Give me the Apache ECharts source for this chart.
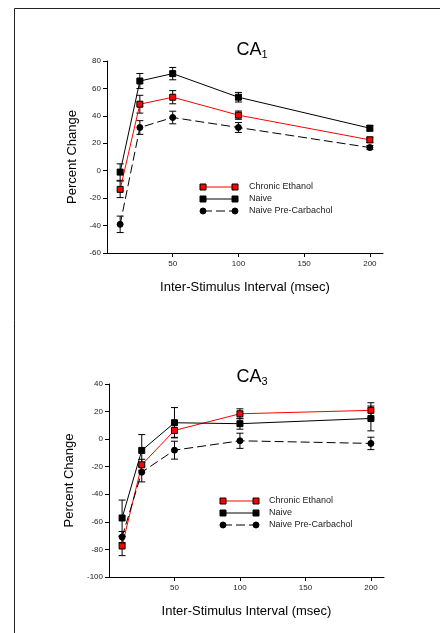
<!DOCTYPE html>
<html>
<head>
<meta charset="utf-8">
<script src="https://cdn.jsdelivr.net/npm/echarts@6/dist/echarts.min.js"></script>
<style>
html, body { margin: 0; padding: 0; background: #fff; }
#chart { width: 440px; height: 633px; }
</style>
</head>
<body>
<div id="chart"></div>
<script>
// inter-stimulus intervals (msec)
const isiMsec = [10, 25, 50, 100, 200]
const xTicks = [50, 100, 150, 200]
const seriesNames = ['Chronic Ethanol', 'Naive', 'Naive Pre-Carbachol']

// CA1 percent change (mean / sem)
const ca1Ethanol = [-13.6, 48.5, 53.6, 40.5, 22.5]
const ca1EthanolErr = [6, 6.5, 4.8, 3, 2]
const ca1Naive = [-1, 65.4, 70.8, 53.6, 31]
const ca1NaiveErr = [6, 5.5, 4.5, 3.5, 2]
const ca1PreCarb = [-39.1, 31.5, 38.8, 31.5, 16.9]
const ca1PreCarbErr = [6, 5, 4.6, 3.6, 1.5]

// CA3 percent change (mean / sem)
const ca3Ethanol = [-77.5, -18.6, 6.3, 18.4, 20.9]
const ca3EthanolErr = [7, 4, 5, 3.6, 5.5]
const ca3Naive = [-57.2, -8.2, 11.9, 11.2, 15]
const ca3NaiveErr = [13, 11.5, 11, 4, 9]
const ca3PreCarb = [-71, -24, -8, -1.2, -3.1]
const ca3PreCarbErr = [4, 7, 6.5, 5.5, 4.5]

const font = 'Liberation Sans, Arial, sans-serif'

const styles = [
  { symbol: 'rect', fill: '#ff0000', line: '#ff0000', dash: 'solid' },
  { symbol: 'rect', fill: '#000', line: '#000', dash: 'solid' },
  { symbol: 'circle', fill: '#000', line: '#000', dash: [9, 4] }
]

function makeLine(idx, values, grid) {
  const st = styles[idx]
  return {
    name: seriesNames[idx],
    type: 'line',
    xAxisIndex: grid,
    yAxisIndex: grid,
    data: isiMsec.map((x, i) => [x, values[i]]),
    symbol: st.symbol,
    symbolSize: 6,
    showAllSymbol: true,
    itemStyle: { color: st.fill, borderColor: '#000', borderWidth: 1 },
    lineStyle: { color: st.line, width: 1, type: st.dash },
    emphasis: { disabled: true },
    z: 3
  }
}

function makeErr(values, errs, grid) {
  return {
    type: 'custom',
    xAxisIndex: grid,
    yAxisIndex: grid,
    data: isiMsec.map((x, i) => [x, values[i] - errs[i], values[i] + errs[i]]),
    encode: { x: 0, y: [1, 2] },
    renderItem: (params, api) => {
      const x = api.value(0)
      const lo = api.coord([x, api.value(1)])
      const hi = api.coord([x, api.value(2)])
      const half = 3.5
      const style = { stroke: '#000', lineWidth: 1 }
      return {
        type: 'group',
        children: [
          { type: 'line', shape: { x1: lo[0], y1: lo[1], x2: hi[0], y2: hi[1] }, style },
          { type: 'line', shape: { x1: lo[0] - half, y1: lo[1], x2: lo[0] + half, y2: lo[1] }, style },
          { type: 'line', shape: { x1: hi[0] - half, y1: hi[1], x2: hi[0] + half, y2: hi[1] }, style }
        ]
      }
    },
    z: 2
  }
}

function makeXAxis(grid) {
  return {
    gridIndex: grid,
    type: 'value',
    min: 0,
    max: 210,
    interval: 50,
    axisLine: { show: true, onZero: false, lineStyle: { color: '#000', width: 1 } },
    axisTick: { show: true, length: 4, customValues: xTicks, lineStyle: { color: '#000' } },
    axisLabel: { customValues: xTicks, fontSize: 8, color: '#222', margin: 7, fontFamily: font },
    splitLine: { show: false },
    name: 'Inter-Stimulus Interval (msec)',
    nameLocation: 'middle',
    nameGap: 28,
    nameTextStyle: { fontSize: 13, color: '#000', fontFamily: font }
  }
}

function makeYAxis(grid, min, max) {
  return {
    gridIndex: grid,
    type: 'value',
    min: min,
    max: max,
    interval: 20,
    axisLine: { show: true, onZero: false, lineStyle: { color: '#000', width: 1 } },
    axisTick: { show: true, length: 4, lineStyle: { color: '#000' } },
    axisLabel: { fontSize: 8, color: '#222', margin: 6, fontFamily: font },
    splitLine: { show: false },
    name: 'Percent Change',
    nameLocation: 'middle',
    nameRotate: 90,
    nameGap: 28,
    nameTextStyle: { fontSize: 13, color: '#000', fontFamily: font }
  }
}

// hand-drawn legend: marker - line - marker, then label
function legendBlock(x1, x2, tx, y0, gap) {
  const items = []
  styles.forEach((st, i) => {
    const y = y0 + i * gap
    items.push({
      type: 'line',
      shape: { x1: x1, y1: y, x2: x2, y2: y },
      style: { stroke: st.line, lineWidth: 1, lineDash: st.dash === 'solid' ? null : st.dash }
    })
    ;[x1, x2].forEach((mx) => {
      if (st.symbol === 'rect') {
        items.push({
          type: 'rect',
          shape: { x: mx - 3, y: y - 3, width: 6, height: 6 },
          style: { fill: st.fill, stroke: '#000', lineWidth: 1 }
        })
      } else {
        items.push({
          type: 'circle',
          shape: { cx: mx, cy: y, r: 3 },
          style: { fill: st.fill, stroke: '#000', lineWidth: 1 }
        })
      }
    })
    items.push({
      type: 'text',
      x: tx,
      y: y,
      style: { text: seriesNames[i], fontSize: 9, fill: '#222', fontFamily: font, verticalAlign: 'middle' }
    })
  })
  return items
}

const titleRich = {
  a: { fontSize: 18, color: '#000', fontWeight: 'normal', fontFamily: font },
  b: { fontSize: 11, color: '#000', fontWeight: 'normal', fontFamily: font, padding: [9, 0, 0, 0] }
}

const chart = echarts.init(document.getElementById('chart'), null, { renderer: 'canvas' })

const option = {
  animation: false,
  backgroundColor: '#fff',
  title: [
    { text: '{a|CA}{b|1}', left: 247, top: 35, textAlign: 'center', textStyle: { fontWeight: 'normal', rich: titleRich } },
    { text: '{a|CA}{b|3}', left: 247, top: 362, textAlign: 'center', textStyle: { fontWeight: 'normal', rich: titleRich } }
  ],
  grid: [
    { left: 107, top: 61, width: 276, height: 192 },
    { left: 109, top: 384, width: 275, height: 193 }
  ],
  xAxis: [makeXAxis(0), makeXAxis(1)],
  yAxis: [makeYAxis(0, -60, 80), makeYAxis(1, -100, 40)],
  series: [
    makeErr(ca1Ethanol, ca1EthanolErr, 0),
    makeErr(ca1Naive, ca1NaiveErr, 0),
    makeErr(ca1PreCarb, ca1PreCarbErr, 0),
    makeLine(0, ca1Ethanol, 0),
    makeLine(1, ca1Naive, 0),
    makeLine(2, ca1PreCarb, 0),
    makeErr(ca3Ethanol, ca3EthanolErr, 1),
    makeErr(ca3Naive, ca3NaiveErr, 1),
    makeErr(ca3PreCarb, ca3PreCarbErr, 1),
    makeLine(0, ca3Ethanol, 1),
    makeLine(1, ca3Naive, 1),
    makeLine(2, ca3PreCarb, 1)
  ],
  graphic: [
    {
      type: 'polyline',
      shape: { points: [[14.5, 633], [14.5, 8.5], [440, 8.5]] },
      style: { stroke: '#222', lineWidth: 1, fill: null }
    },
    ...legendBlock(203, 235, 249, 187, 12),
    ...legendBlock(223, 256, 269, 501, 12)
  ]
}

chart.setOption(option)
</script>
</body>
</html>
